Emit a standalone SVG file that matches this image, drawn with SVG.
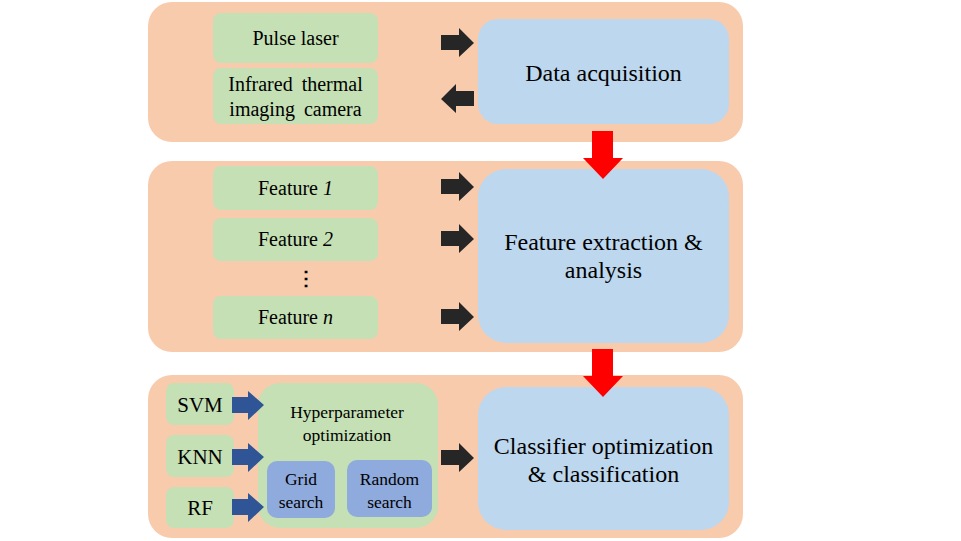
<svg xmlns="http://www.w3.org/2000/svg" width="961" height="541" viewBox="0 0 961 541">
<defs>
<style>
.panel{fill:#F8CBAD}
.green{fill:#C5E0B4}
.blue{fill:#BDD7EE}
.dblue{fill:#8FAADC}
.t{font-family:"Liberation Serif","Times New Roman",serif;fill:#000;text-anchor:middle}
.s20{font-size:20px}
.s21{font-size:21px}
.s18{font-size:17.5px}
.s24{font-size:24px}
.ka{fill:#262626}
.ba{fill:#2F5597}
.ra{fill:#FF0000}
</style>
<polygon id="rarrow" points="0,-8 18,-8 18,-15 33,0 18,14 18,7 0,7"/>
<polygon id="barrow" points="0,-8 16,-8 16,-14 32,0 16,15 16,8 0,8"/>
<polygon id="darrow" points="-11,0 10,0 10,27 20,27 0,48 -20,27 -11,27"/>
</defs>
<rect width="961" height="541" fill="#fff"/>
<g id="panel1"><rect class="panel" x="148" y="2" width="595" height="140" rx="24"/></g>
<g id="panel2"><rect class="panel" x="148" y="161" width="595" height="191" rx="24"/></g>
<g id="panel3"><rect class="panel" x="148" y="375" width="595" height="163" rx="24"/></g>

<g id="pulse-laser"><rect class="green" x="213" y="13" width="165" height="50" rx="8"/><text class="t s20" x="295.5" y="45">Pulse laser</text></g>
<g id="ir-camera"><rect class="green" x="213" y="68" width="165" height="56" rx="8"/><text class="t s20" x="295.5" y="91" word-spacing="4">Infrared thermal</text><text class="t s20" x="295.5" y="116" word-spacing="4">imaging camera</text></g>
<g id="data-acquisition"><rect class="blue" x="478" y="19" width="251" height="105" rx="20"/><text class="t s24" x="603.5" y="81">Data acquisition</text></g>

<g id="feature1"><rect class="green" x="213" y="166" width="165" height="44" rx="8"/><text class="t s20" x="295.5" y="195">Feature <tspan font-style="italic">1</tspan></text></g>
<g id="feature2"><rect class="green" x="213" y="218" width="165" height="43" rx="8"/><text class="t s20" x="295.5" y="246">Feature <tspan font-style="italic">2</tspan></text></g>
<g id="dots"><text class="t" x="306" y="285" font-size="20" font-family="'DejaVu Sans',sans-serif" font-weight="bold">⋮</text></g>
<g id="featuren"><rect class="green" x="213" y="296" width="165" height="43" rx="8"/><text class="t s20" x="295.5" y="324">Feature <tspan font-style="italic">n</tspan></text></g>
<g id="feature-extraction"><rect class="blue" x="478" y="169" width="251" height="174" rx="28"/><text class="t s24" x="603.5" y="250">Feature extraction &amp;</text><text class="t s24" x="603.5" y="278">analysis</text></g>

<g id="svm"><rect class="green" x="166" y="383" width="68" height="42" rx="8"/><text class="t s21" x="200" y="412">SVM</text></g>
<g id="knn"><rect class="green" x="166" y="435" width="68" height="42" rx="8"/><text class="t s21" x="200" y="464">KNN</text></g>
<g id="rf"><rect class="green" x="166" y="487" width="68" height="41" rx="8"/><text class="t s21" x="200" y="515">RF</text></g>
<g id="hyperparameter"><rect class="green" x="258" y="383" width="180" height="145" rx="22"/><text class="t s18" x="347" y="418">Hyperparameter</text><text class="t s18" x="347" y="441">optimization</text></g>
<g id="grid-search"><rect class="dblue" x="267" y="461" width="68" height="57" rx="10"/><text class="t s18" x="301" y="485">Grid</text><text class="t s18" x="301" y="508">search</text></g>
<g id="random-search"><rect class="dblue" x="347" y="460" width="85" height="57" rx="10"/><text class="t s18" x="389.5" y="485">Random</text><text class="t s18" x="389.5" y="508">search</text></g>
<g id="classifier"><rect class="blue" x="478" y="387" width="251" height="143" rx="28"/><text class="t s24" x="603.5" y="454">Classifier optimization</text><text class="t s24" x="603.5" y="482">&amp; classification</text></g>

<g id="connectors">
<use href="#rarrow" class="ka" x="441" y="43"/>
<use href="#rarrow" class="ka" transform="translate(474,99) scale(-1,1)"/>
<use href="#rarrow" class="ka" x="441" y="187"/>
<use href="#rarrow" class="ka" x="441" y="239"/>
<use href="#rarrow" class="ka" x="441" y="317"/>
<use href="#rarrow" class="ka" x="441" y="458"/>
<use href="#barrow" class="ba" x="232" y="405"/>
<use href="#barrow" class="ba" x="232" y="457"/>
<use href="#barrow" class="ba" x="232" y="507"/>
<use href="#darrow" class="ra" x="603" y="131"/>
<use href="#darrow" class="ra" x="603" y="349"/>
</g>
</svg>
